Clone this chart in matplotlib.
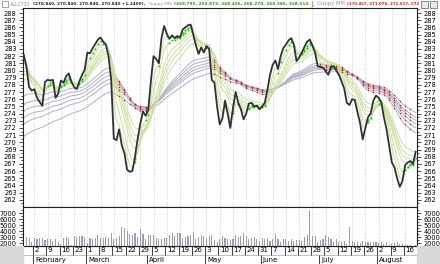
import numpy as np
import pandas as pd
import matplotlib
matplotlib.use("Agg")
import matplotlib.pyplot as plt

# ---------------- data ----------------
start_date = "2004-01-27"
end_date = "2004-08-20"

close = [282.2, 280.5, 277.7, 277.2, 277.4, 276.2, 275.6, 275.1, 278.4, 278.7,
         278.6, 278.7, 276.2, 276.8, 278.6, 278.3, 279.2, 279.6, 278.4, 277.7,
         277.4, 278.5, 279.4, 280.1, 282.5, 282.4, 283.1, 283.7, 284.3, 284.6,
         284.0, 283.6, 282.0, 278.7, 270.5, 270.3, 271.8, 269.6, 268.5, 266.2,
         265.9, 266.0, 268.0, 270.5, 272.6, 274.3, 273.7, 274.5, 278.5, 282.0,
         281.6, 281.0, 284.5, 286.2, 285.1, 284.4, 284.9, 284.5, 284.8, 284.6,
         285.7, 286.0, 286.3, 286.4, 285.0, 283.5, 282.3, 283.2, 282.5, 283.4,
         283.0, 278.7, 278.3, 275.0, 272.5, 273.3, 275.8, 274.0, 272.0, 274.8,
         277.0, 275.5, 274.6, 273.2, 274.0, 275.4, 275.5, 275.0, 275.1, 274.6,
         275.0, 275.5, 277.3, 279.4, 280.8, 281.4, 280.2, 282.0, 283.1, 283.6,
         284.2, 284.5, 283.6, 281.3, 281.8, 282.5, 283.3, 284.0, 284.3, 283.5,
         282.5, 280.6, 280.5, 280.4, 279.9, 279.4, 280.5, 280.6, 280.0, 279.4,
         278.5, 277.5, 275.5, 275.2, 276.0, 275.9, 274.2, 272.7, 270.4, 272.0,
         273.5, 274.0, 275.8, 276.5, 276.2, 275.6, 273.5, 271.8, 269.5, 267.2,
         266.5, 265.0, 263.8, 264.6, 266.8, 267.2, 267.4, 267.0, 268.7]

volume = [2700, 3000, 2900, 2100,
          2800, 2700, 2900, 2800, 2500, 2700, 2600, 2400, 2700, 2200,
          1800, 2900, 3000, 2800, 1600, 3200, 3000, 3100, 3100, 3000,
          2000, 2800, 2700, 2800, 3400, 2900, 2800, 3000, 2800, 3600,
          2700, 2900, 3200, 4700, 4500, 4000, 3500, 3400, 3600, 3000,
          4300, 3500, 2600,
          3400, 3300, 3400, 2800, 2700, 2700, 2900, 2800, 3400, 3600,
          3200, 3700, 3600, 2800, 3000, 3200, 3300, 3800, 2600, 3000,
          3400, 3200,
          2900, 3200, 3300, 2500, 2200, 2600, 3100, 2900, 2700, 2500,
          2600, 3400, 3000, 3100, 3600, 3200, 2700, 2900, 3000, 2600, 2400,
          2900, 2600, 2800, 2300, 2700, 3500, 2600, 2100, 2700, 2600,
          2300, 2600, 2400, 2500, 2500, 2400, 3000, 3300, 7500, 3200,
          3200, 2200,
          2500, 2700, 3300, 3000, 2700, 2200, 2600, 2100, 2200, 2400,
          1800, 4600, 2300, 2100, 2200, 2000, 2300, 2200, 2100, 2200,
          2100, 2200,
          2000, 2200, 1900, 2100, 1700, 1800, 2000, 2200, 1800, 1900,
          1600, 1700, 1700, 1500, 1600]

short_periods = [3, 5, 8, 10, 12, 15]
short_seeds = [281.6, 281.0, 280.3, 279.8, 279.3, 278.6]
long_periods = [30, 35, 40, 45, 50, 60]
long_seeds = [276.4, 275.2, 274.3, 273.4, 272.5, 270.8]

y_labels = list(range(262, 289))
vol_labels = [2000, 3000, 4000, 5000, 6000, 7000]

title_name = "ALLCT30"
title_price = "(270.840, 270.840, 270.840, 270.840 +1.2400),"
title_g1 = "(269.795, 269.872, 268.426, 268.270, 268.386, 268.514"
title_g1_end = "),"
title_g2 = "(270.457, 271.076, 271.617, 272"

# ---------------- helpers ----------------
dates = pd.bdate_range(start_date, end_date)
n = len(close)
x = np.arange(n)


def ema(values, period, seed):
    a = 2.0 / (period + 1)
    out = [seed]
    for v in values[1:]:
        out.append(out[-1] + a * (v - out[-1]))
    return np.array(out)


shorts = [ema(close, p, s) for p, s in zip(short_periods, short_seeds)]
longs = [ema(close, p, s) for p, s in zip(long_periods, long_seeds)]

mondays = [i for i, d in enumerate(dates) if d.weekday() == 0]
month_starts = [i for i in range(n) if i == 0 or dates[i].month != dates[i - 1].month]

fig = plt.figure(figsize=(4.4, 2.64), dpi=100)
fig.patch.set_facecolor("white")

L, R = 23 / 440, 394 / 440
axp = fig.add_axes([L, 57 / 264, R, 199 / 264])
axv = fig.add_axes([L, 18 / 264, R, 39 / 264], sharex=axp)
axd = fig.add_axes([L, 0, R, 18 / 264], sharex=axp)

xmin, xmax = -0.3, n - 0.5
grid_kw = dict(color="#b8b8b8", lw=0.6, ls=(0, (1, 2)))

# ---- price panel ----
for xi in mondays:
    axp.axvline(xi, **grid_kw, zorder=0)

long_arr = np.array(longs)
spread = long_arr.max(axis=0) - long_arr.min(axis=0)
for e in longs:
    axp.plot(x, e, color="#b0b0c6", lw=0.7, zorder=2)
    d = np.diff(e, prepend=e[0])
    m = (d < 0) & (spread < 2.8) & (x % 2 == 0)
    axp.plot(x[m], e[m], ls="none", marker="o", ms=1.1, mew=0, color="#e02010", zorder=3)
for k, e in enumerate(shorts):
    axp.plot(x, e, color="#cadf9e", lw=0.7, zorder=2)
    if k < 2:
        d = np.diff(e, prepend=e[0])
        m = (d > 0) & (np.abs(e - np.array(close)) < 0.9)
        axp.plot(x[m], e[m], ls="none", marker="o", ms=1.4, mew=0, color="#10d010", zorder=4)
axp.plot(x, close, color="#303038", lw=1.3, zorder=5)

axp.set_xlim(xmin, xmax)
axp.set_ylim(261.0, 288.7)

for ax in (axp, axv):
    ax.tick_params(axis="x", which="both", bottom=False, labelbottom=False)
    ax.tick_params(axis="y", which="both", left=True, right=True, labelleft=True,
                   labelright=True, labelsize=4.8, pad=1.5, width=0.5, colors="#000000")
    ax.tick_params(axis="y", which="major", length=3)
    ax.tick_params(axis="y", which="minor", length=1.5)
    for s in ax.spines.values():
        s.set_linewidth(0.8)
        s.set_color("#202020")

axp.set_yticks(y_labels)
axp.set_yticklabels([str(v) for v in y_labels])
axp.set_yticks(np.arange(261.5, 288.7, 1.0), minor=True)

# ---- volume panel ----
for xi in mondays:
    axv.axvline(xi, **grid_kw, zorder=0)
axv.bar(x, volume, width=0.42, color="#9c9cb4", zorder=2)
axv.set_ylim(1500, 8000)
axv.set_yticks(vol_labels)
axv.set_yticklabels([str(v) for v in vol_labels])
axv.set_yticks(np.arange(1500, 8000, 500), minor=True)

# ---- date strip ----
axd.set_ylim(0, 1)
axd.axis("off")
for i in mondays:
    axd.plot([i - 0.5, i - 0.5], [0.5, 1.0], color="#202020", lw=0.6, clip_on=False)
    axd.text(i, 0.75, str(dates[i].day), fontsize=5, ha="left", va="center")
for i in month_starts[1:]:
    axd.plot([i - 0.5, i - 0.5], [0.0, 0.5], color="#202020", lw=0.6, clip_on=False)
    axd.text(i + 0.3, 0.22, dates[i].strftime("%B"), fontsize=5, ha="left", va="center")
axd.plot([xmin, xmax], [1, 1], color="#202020", lw=0.8)
axd.plot([xmin, xmax], [0.5, 0.5], color="#909090", lw=0.4)

fig.patches.append(plt.Rectangle((0, 0), L, 18 / 264, transform=fig.transFigure,
                                 color="#d8d8d8", zorder=0))
fig.patches.append(plt.Rectangle((417 / 440, 0), 23 / 440, 18 / 264, transform=fig.transFigure,
                                 color="#d8d8d8", zorder=0))

# ---- title row (each part fitted to its span in the reference) ----
ty = 1 - 4 / 264
fig.patches.append(plt.Rectangle((2 / 440, 1 - 7 / 264), 6 / 440, 6 / 264, transform=fig.transFigure,
                                 fill=False, ec="#808080", lw=0.5))
parts = [(title_name, "#909090", "normal", 10, 31),
         (title_price, "#202020", "bold", 33, 146),
         ("Guppy MM", "#909090", "normal", 149, 172),
         (title_g1, "#2a9a10", "bold", 174, 309),
         (title_g1_end, "#707070", "normal", 310, 315),
         ("Guppy MM", "#909090", "normal", 317, 345),
         (title_g2, "#d02010", "bold", 347, 418)]
fig.canvas.draw()
rend = fig.canvas.get_renderer()
for txt, col, wt, x0, x1 in parts:
    t = fig.text(x0 / 440, ty, txt, fontsize=5, color=col, weight=wt, ha="left", va="center")
    w = t.get_window_extent(renderer=rend).width
    t.set_fontsize(min(5.2, 5 * (x1 - x0) / w))
for k in range(2):
    fig.patches.append(plt.Rectangle(((421 + 9 * k) / 440, 1 - 8 / 264), 7 / 440, 7 / 264,
                                     transform=fig.transFigure, fc="#e8e8e8", ec="#606060", lw=0.5))

fig.savefig("out.png", dpi=100, facecolor="white")
